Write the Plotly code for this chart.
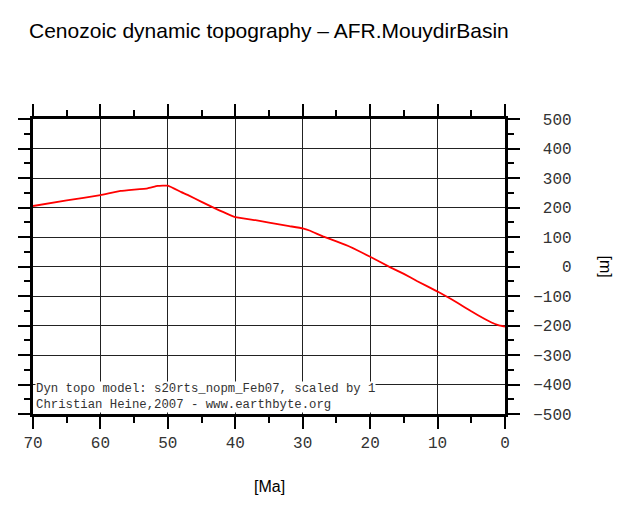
import plotly.graph_objects as go

# Age (Ma) and dynamic topography (m)
age_ma = [70, 65, 60, 57, 53, 51.5, 50, 48, 47, 45, 43, 40, 37, 35, 32, 30, 29, 27, 25, 23, 20, 17, 15, 13, 10, 8, 6, 5, 3, 2, 1, 0]
topo_m = [205, 224, 242, 256, 265, 273, 274, 252, 242, 219, 197, 167, 157, 149, 137, 129, 122, 102, 85, 67, 33, -3, -25, -50, -85, -110, -138, -152, -178, -190, -199, -204]

x_ticks = [70, 60, 50, 40, 30, 20, 10, 0]
y_ticks = [500, 400, 300, 200, 100, 0, -100, -200, -300, -400, -500]

title_text = "Cenozoic dynamic topography \u2013 AFR.MouydirBasin"
x_label = "[Ma]"
y_label = "[m]"
credit_lines = ["Dyn topo model: s20rts_nopm_Feb07, scaled by 1",
                "Christian Heine,2007 - www.earthbyte.org"]

def ylab(v):
    s = str(abs(v))
    if v < 0:
        s = "\u2212" + s
    return "\u00a0" * (4 - len(s)) + s

fig = go.Figure()
fig.add_trace(go.Scatter(x=age_ma, y=topo_m, mode="lines", line_shape="spline",
                         line=dict(color="#ff0000", width=1.8, smoothing=0.3), showlegend=False))

mono = dict(family="Liberation Mono, Courier New, monospace", size=16, color="#333333")

fig.update_layout(
    width=627, height=507,
    margin=dict(l=25, r=130, t=111, b=101, autoexpand=False),
    paper_bgcolor="white", plot_bgcolor="white",
    xaxis=dict(range=[70, 0], tickvals=x_ticks, ticktext=[str(v) for v in x_ticks],
               showgrid=True, gridcolor="#222222", gridwidth=1,
               showline=True, linecolor="black", linewidth=3, mirror="ticks",
               ticks="outside", ticklen=12, tickwidth=1.5, tickcolor="black",
               minor=dict(dtick=5, ticks="outside", ticklen=6, tickwidth=1.5, tickcolor="black", showgrid=False),
               tickfont=mono, zeroline=False, ticklabelstandoff=0, automargin=False),
    yaxis=dict(range=[-500, 500], side="right", tickvals=y_ticks, ticktext=[ylab(v) for v in y_ticks],
               showgrid=True, gridcolor="#222222", gridwidth=1,
               showline=True, linecolor="black", linewidth=3, mirror="ticks",
               ticks="outside", ticklen=12, tickwidth=1.5, tickcolor="black",
               minor=dict(dtick=50, ticks="outside", ticklen=6, tickwidth=1.5, tickcolor="black", showgrid=False),
               tickfont=mono, zeroline=False, ticklabelstandoff=10, automargin=False),
    annotations=[
        dict(text=title_text, xref="paper", yref="paper", x=0, xshift=-6, y=1.0, yshift=89,
             xanchor="left", yanchor="middle", showarrow=False,
             font=dict(family="Liberation Sans, Arial, sans-serif", size=21, color="black")),
        dict(text=x_label, xref="paper", yref="paper", x=0.5, y=0, yshift=-72,
             xanchor="center", yanchor="middle", showarrow=False,
             font=dict(family="Liberation Sans, Arial, sans-serif", size=16, color="black")),
        dict(text=y_label, xref="paper", yref="paper", x=1, xshift=100, y=0.5,
             xanchor="center", yanchor="middle", showarrow=False, textangle=90,
             font=dict(family="Liberation Sans, Arial, sans-serif", size=16, color="black")),
        dict(text="<br>".join(credit_lines), xref="paper", yref="paper", x=0, y=0, xshift=2, yshift=1.5,
             xanchor="left", yanchor="bottom", align="left", showarrow=False,
             bgcolor="white", borderpad=0,
             font=dict(family="Liberation Mono, Courier New, monospace", size=12.3, color="#333333")),
    ],
)

fig.write_html("out.html")
